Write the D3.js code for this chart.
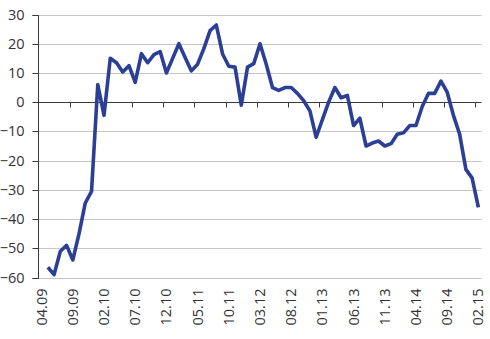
<!DOCTYPE html>
<html>
<head>
<meta charset="utf-8">
<script src="https://cdn.jsdelivr.net/npm/d3@7"></script>
<style>
  html, body { margin: 0; padding: 0; background: #fff; }
  svg { display: block; font-family: "Open Sans", "DejaVu Sans", sans-serif; }
</style>
</head>
<body>
<svg id="chart" width="490" height="339"></svg>
<script>
// Monthly categories, April 2009 to February 2015
const months = [
  "04.09","05.09","06.09","07.09","08.09","09.09","10.09","11.09","12.09",
  "01.10","02.10","03.10","04.10","05.10","06.10","07.10","08.10","09.10","10.10","11.10","12.10",
  "01.11","02.11","03.11","04.11","05.11","06.11","07.11","08.11","09.11","10.11","11.11","12.11",
  "01.12","02.12","03.12","04.12","05.12","06.12","07.12","08.12","09.12","10.12","11.12","12.12",
  "01.13","02.13","03.13","04.13","05.13","06.13","07.13","08.13","09.13","10.13","11.13","12.13",
  "01.14","02.14","03.14","04.14","05.14","06.14","07.14","08.14","09.14","10.14","11.14","12.14",
  "01.15","02.15"
];

// Balance values per month (first month has no reading)
const values = [
  null, -56.5, -59, -51, -49, -54, -45, -34.5, -30.5,
  6, -4.5, 15, 13.5, 10.3, 12.5, 6.8, 16.6, 13.5, 16.3, 17.3, 10,
  15, 20, 15.3, 10.7, 13, 18.3, 24.5, 26.4, 16.5, 12.3, 12, -1,
  12, 13.2, 20, 13, 5, 4, 5, 5, 3, 0.5, -3, -12,
  -6, 0, 5, 1.5, 2.3, -8, -5.5, -15, -14, -13.3, -15, -14.2,
  -11, -10.5, -8, -8, -1.5, 3, 3, 7.2, 3.4, -4.5, -11, -23,
  -26, -36
];

// Labelled months on the category axis
const tickLabels = ["04.09","09.09","02.10","07.10","12.10","05.11","10.11","03.12",
                    "08.12","01.13","06.13","11.13","04.14","09.14","02.15"];

const yTicks = [-60, -50, -40, -30, -20, -10, 0, 10, 20, 30];

const svg = d3.select("#chart");
const plotLeft = 38.5, plotRight = 481.5, plotTop = 14.5, plotBottom = 277.5;

const x = d3.scaleBand().domain(months).range([plotLeft, plotRight]).paddingInner(0).paddingOuter(0);
const y = d3.scaleLinear().domain([-60, 30]).range([plotBottom, plotTop]);
const cx = m => x(m) + x.bandwidth() / 2;
const snap = v => Math.round(v) + 0.5;

// horizontal gridlines
svg.append("g")
  .selectAll("line")
  .data(yTicks.filter(v => v !== 0))
  .join("line")
  .attr("x1", plotLeft).attr("x2", plotRight)
  .attr("y1", d => snap(y(d))).attr("y2", d => snap(y(d)))
  .attr("stroke", "#c6c6c6").attr("stroke-width", 1);

// value axis
const yAxis = d3.axisLeft(y).tickValues(yTicks).tickSize(6).tickPadding(8).tickFormat(d3.format("d"));
const gy = svg.append("g").attr("transform", `translate(${plotLeft},0)`).call(yAxis);
gy.select(".domain").attr("stroke", "#3a3a3a").attr("d", `M-6,${snap(y(30))}H0V${snap(y(-60))}H-6`);
gy.selectAll(".tick line").attr("stroke", "#3a3a3a");
gy.selectAll(".tick").attr("transform", d => `translate(0,${snap(y(d))})`);
gy.selectAll("text").attr("font-size", 14.5).attr("fill", "#333")
  .attr("font-family", "'Open Sans', sans-serif");

// category axis along the zero line, tick marks every five months
const y0 = snap(y(0));
const boundaries = d3.range(5, months.length, 5).map(i => x(months[i]));
const gx = svg.append("g");
gx.append("line").attr("x1", plotLeft).attr("x2", plotRight).attr("y1", y0).attr("y2", y0)
  .attr("stroke", "#3a3a3a").attr("stroke-width", 1);
gx.selectAll("line.tk").data(boundaries).join("line").attr("class", "tk")
  .attr("x1", d => snap(d)).attr("x2", d => snap(d))
  .attr("y1", y0).attr("y2", y0 + 5)
  .attr("stroke", "#3a3a3a").attr("stroke-width", 1);

// rotated month labels under the plot
svg.append("g").selectAll("text").data(tickLabels).join("text")
  .attr("transform", d => `translate(${cx(d)},${plotBottom + 11}) rotate(-90)`)
  .attr("text-anchor", "end")
  .attr("dy", "0.35em")
  .attr("font-size", 14.5).attr("fill", "#333")
  .text(d => d);

// the series line
const line = d3.line()
  .defined(d => d.v !== null)
  .x(d => cx(d.m))
  .y(d => y(d.v));

svg.append("path")
  .datum(months.map((m, i) => ({ m, v: values[i] })))
  .attr("d", line)
  .attr("fill", "none")
  .attr("stroke", "#2b3f96")
  .attr("stroke-width", 3.6)
  .attr("stroke-linejoin", "round")
  .attr("stroke-linecap", "butt");
</script>
</body>
</html>
